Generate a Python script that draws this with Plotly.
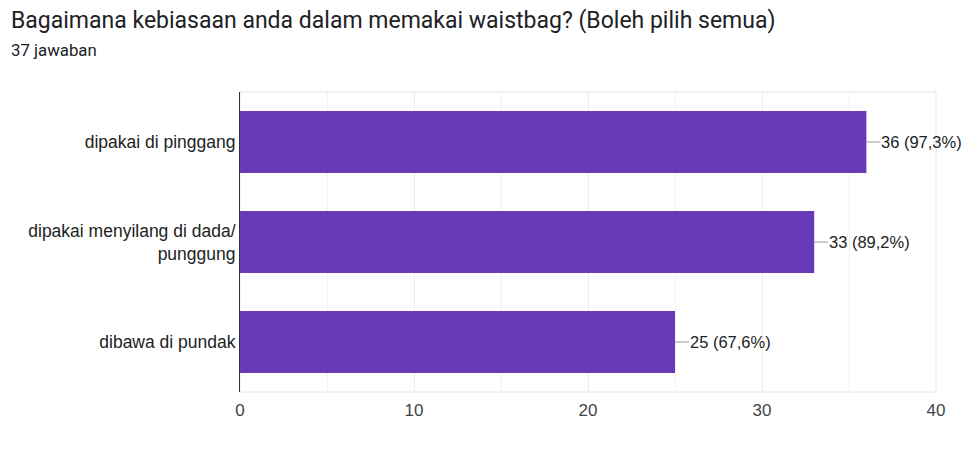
import plotly.graph_objects as go

categories = ["dipakai di pinggang", "dipakai menyilang di dada/<br>punggung", "dibawa di pundak"]
counts = [36, 33, 25]
percents = ["97,3%", "89,2%", "67,6%"]
x_ticks = [0, 10, 20, 30, 40]
title_text = "Bagaimana kebiasaan anda dalam memakai waistbag? (Boleh pilih semua)"
subtitle_text = "37 jawaban"

# page body has an 8px default margin; figure placed at (8, 8)
L, T, PW, PH = 232, 84, 696, 300

fig = go.Figure()
fig.add_trace(go.Bar(
    y=categories, x=counts, orientation="h",
    marker=dict(color="#673ab7", line=dict(width=0)),
    width=0.62, hoverinfo="skip",
))

for c, v, p in zip(categories, counts, percents):
    fig.add_annotation(
        x=v, y=c, xref="x", yref="y",
        text=f"{v} ({p})", showarrow=True, arrowhead=0, arrowwidth=1,
        arrowcolor="#999999", ax=14, ay=0, axref="pixel", ayref="pixel",
        xanchor="left", yanchor="middle", standoff=0, startstandoff=0,
        font=dict(family="Liberation Sans, Arial", size=16.5, color="#222222"),
        borderpad=0,
    )

fig.add_annotation(
    text=title_text, xref="paper", yref="paper", x=-(L - 1) / PW, y=1 + (T - 12) / PH,
    xanchor="left", yanchor="middle", showarrow=False,
    font=dict(family="Roboto, Arial", size=23, color="#202124"),
)
fig.add_annotation(
    text=subtitle_text, xref="paper", yref="paper", x=-(L - 1) / PW, y=1 + (T - 42) / PH,
    xanchor="left", yanchor="middle", showarrow=False,
    font=dict(family="Roboto, Arial", size=16.8, color="#202124"),
)

# plot area border lines (top, bottom, right)
fig.add_shape(type="rect", xref="paper", yref="paper", x0=0, x1=1, y0=0, y1=1,
              line=dict(color="#e6e6e6", width=1), layer="below")

fig.update_xaxes(
    range=[0, 40], tickvals=x_ticks, showgrid=True, gridcolor="#ececec", gridwidth=1,
    minor=dict(dtick=5, showgrid=True, gridcolor="#f1f1f1"),
    zeroline=False, showline=False, ticks="",
    tickfont=dict(family="Liberation Sans, Arial", size=17, color="#444444"),
    ticklabelstandoff=6, fixedrange=True,
)
fig.update_yaxes(
    autorange="reversed", showgrid=False, zeroline=False,
    showline=True, linecolor="#333333", linewidth=1, ticks="",
    tickfont=dict(family="Liberation Sans, Arial", size=17.5, color="#222222"),
    ticklabelstandoff=0, fixedrange=True,
)

fig.update_layout(
    width=962, height=468,
    margin=dict(l=L, r=962 - L - PW, t=T, b=468 - T - PH, autoexpand=False),
    plot_bgcolor="white", paper_bgcolor="white",
    showlegend=False, bargap=0.38,
)

fig.write_html("out.html")
